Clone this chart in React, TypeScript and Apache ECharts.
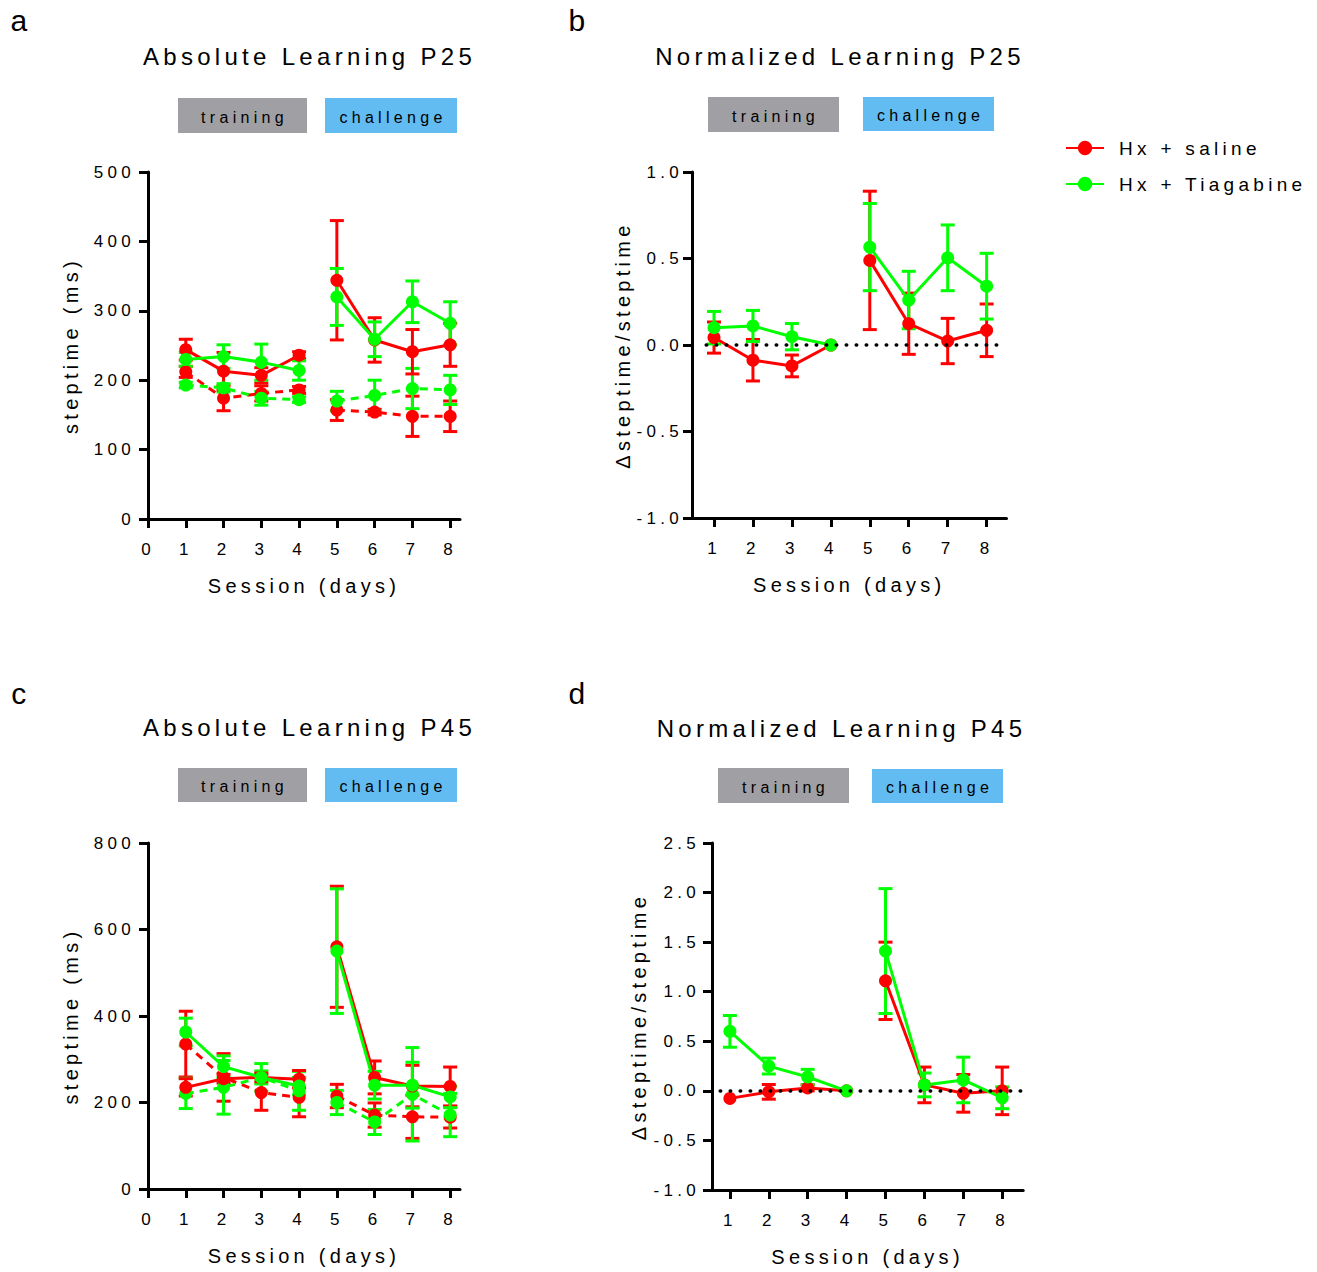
import React, { useEffect, useRef } from 'react';
import * as echarts from 'echarts';

const FONT = '"Liberation Sans", Arial, Helvetica, sans-serif';
const RED = '#ff0000';
const GREEN = '#00ff00';
const GRAY = '#a0a0a4';
const BLUE = '#62bcf2';

const sessions = [1, 2, 3, 4, 5, 6, 7, 8];
const xTicksAbs = [0, 1, 2, 3, 4, 5, 6, 7, 8];
const xTicksNorm = [1, 2, 3, 4, 5, 6, 7, 8];
const legendNames = ['Hx + saline', 'Hx + Tiagabine'];

// Panel a: Absolute Learning P25 (ms)
const aSalineSolid = [244, 213, 207, 236, 344, 258, 241, 251];
const aSalineSolidErr = [15, 27, 11, 5, 86, 32, 32, 31];
const aSalineDashed = [212, 174, 181, 186, 157, 154, 148, 148];
const aSalineDashedErr = [8, 18, 11, 5, 15, 4, 29, 22];
const aTiaSolid = [230, 234, 226, 214, 320, 259, 313, 282];
const aTiaSolidErr = [10, 17, 26, 14, 41, 25, 30, 31];
const aTiaDashed = [193, 189, 174, 172, 170, 178, 188, 186];
const aTiaDashedErr = [4, 6, 10, 4, 14, 22, 29, 21];

// Panel b: Normalized Learning P25
const bSaline = [0.043, -0.088, -0.121, 0, 0.489, 0.123, 0.023, 0.085];
const bSalineErr = [0.09, 0.12, 0.063, 0, 0.4, 0.177, 0.131, 0.152];
const bTia = [0.1, 0.11, 0.048, 0, 0.566, 0.26, 0.504, 0.34];
const bTiaErr = [0.094, 0.09, 0.076, 0, 0.252, 0.166, 0.19, 0.19];

// Panel c: Absolute Learning P45 (ms)
const cSalineSolid = [235, 255, 258, 254, 560, 258, 238, 237];
const cSalineSolidErr = [20, 10, 10, 20, 140, 38, 48, 45];
const cSalineDashed = [335, 258, 223, 212, 215, 171, 167, 166];
const cSalineDashedErr = [76, 55, 41, 45, 27, 28, 50, 25];
const cTiaSolid = [363, 283, 258, 238, 550, 240, 240, 213];
const cTiaSolidErr = [32, 25, 32, 20, 144, 32, 53, 25];
const cTiaDashed = [221, 235, 258, 227, 200, 155, 219, 171];
const cTiaDashedErr = [35, 62, 15, 45, 28, 29, 108, 50];

// Panel d: Normalized Learning P45
const dSaline = [-0.076, -0.01, 0.03, 0, 1.11, 0.06, -0.025, 0.0];
const dSalineErr = [0, 0.074, 0.03, 0, 0.39, 0.18, 0.19, 0.24];
const dTia = [0.6, 0.25, 0.14, 0, 1.41, 0.06, 0.11, -0.07];
const dTiaErr = [0.16, 0.08, 0.077, 0, 0.63, 0.12, 0.23, 0.11];

const linePts = (vals: number[]) => {
  const out: any[] = [];
  sessions.forEach((s, i) => {
    if (i === 4) out.push('-');
    out.push([s, vals[i]]);
  });
  return out;
};
const errPts = (vals: number[], errs: number[]) =>
  sessions.map((s, i) => [s, vals[i], errs[i]]).filter((d) => d[2] > 0);

const lineSeries = (name: string, color: string, dashed: boolean, gi: number, vals: number[]) => ({
  type: 'line',
  name,
  xAxisIndex: gi,
  yAxisIndex: gi,
  data: linePts(vals),
  symbol: 'circle',
  symbolSize: 13,
  showSymbol: true,
  connectNulls: false,
  lineStyle: { color, width: 3, type: dashed ? [8, 6] : 'solid' },
  itemStyle: { color },
  emphasis: { disabled: true },
  z: 3,
});

const errSeries = (color: string, gi: number, vals: number[], errs: number[]) => ({
  type: 'custom',
  xAxisIndex: gi,
  yAxisIndex: gi,
  data: errPts(vals, errs),
  encode: { x: 0, y: 1 },
  silent: true,
  z: 3,
  renderItem: (params: any, api: any) => {
    const x = api.value(0);
    const y = api.value(1);
    const e = api.value(2);
    const top = api.coord([x, y + e]);
    const bot = api.coord([x, y - e]);
    const hw = 7;
    const st = { stroke: color, lineWidth: 3 };
    return {
      type: 'group',
      children: [
        { type: 'line', shape: { x1: top[0], y1: top[1], x2: bot[0], y2: bot[1] }, style: st },
        { type: 'line', shape: { x1: top[0] - hw, y1: top[1], x2: top[0] + hw, y2: top[1] }, style: st },
        { type: 'line', shape: { x1: bot[0] - hw, y1: bot[1], x2: bot[0] + hw, y2: bot[1] }, style: st },
      ],
    };
  },
});

const axisLineStyle = { show: true, onZero: false, lineStyle: { color: '#000', width: 3 } };

const xAxisCfg = (gi: number, min: number, max: number, ticks: number[]) => ({
  type: 'value',
  gridIndex: gi,
  min,
  max,
  name: 'Session (days)',
  nameLocation: 'middle',
  nameGap: 57,
  nameTextStyle: { fontSize: 20, color: '#000', fontFamily: FONT },
  axisLine: axisLineStyle,
  axisTick: { show: true, length: 9, lineStyle: { width: 3, color: '#000' }, customValues: ticks },
  axisLabel: { customValues: ticks, fontSize: 17, color: '#000', margin: 22, fontFamily: FONT },
  splitLine: { show: false },
});

const yAxisCfg = (
  gi: number,
  min: number,
  max: number,
  interval: number,
  name: string,
  gap: number,
  margin: number,
  decimals: number
) => ({
  type: 'value',
  gridIndex: gi,
  min,
  max,
  interval,
  name,
  nameLocation: 'middle',
  nameRotate: 90,
  nameGap: gap,
  nameTextStyle: { fontSize: 20, color: '#000', fontFamily: FONT },
  axisLine: axisLineStyle,
  axisTick: { show: true, length: 9, lineStyle: { width: 3, color: '#000' } },
  axisLabel: {
    fontSize: 17,
    color: '#000',
    margin,
    fontFamily: FONT,
    formatter: (v: number) => v.toFixed(decimals),
  },
  splitLine: { show: false },
});

const textEl = (text: string, x: number, y: number, size: number) => ({
  type: 'text',
  x,
  y,
  silent: true,
  style: {
    text,
    fontSize: size,
    fontFamily: FONT,
    fill: '#000',
    align: 'center',
    verticalAlign: 'middle',
    textAlign: 'center',
    textVerticalAlign: 'middle',
  },
});

const boxEl = (label: string, color: string, x: number, y: number, w: number, h: number) => [
  { type: 'rect', shape: { x, y, width: w, height: h }, style: { fill: color }, silent: true },
  textEl(label, x + w / 2 + 2, y + h / 2 + 1.5, 16),
];

export default function App() {
  const ref = useRef<HTMLDivElement>(null);
  useEffect(() => {
    if (!ref.current) return;
    const chart = echarts.init(ref.current, undefined, { renderer: 'svg' });
    const zeroMark = (x0: number, x1: number) => ({
      silent: true,
      symbol: 'none',
      label: { show: false },
      lineStyle: { color: '#000', type: [0.5, 9.5], width: 3.5, cap: 'round' },
      data: [[{ coord: [x0, 0] }, { coord: [x1, 0] }]],
    });

    const bSal = lineSeries(legendNames[0], RED, false, 1, bSaline) as any;
    bSal.markLine = zeroMark(0.8, 8.5);
    const dSal = lineSeries(legendNames[0], RED, false, 3, dSaline) as any;
    dSal.markLine = zeroMark(0.75, 8.54);

    const option: any = {
      animation: false,
      backgroundColor: '#fff',
      textStyle: { fontFamily: FONT },
      legend: {
        data: legendNames,
        orient: 'vertical',
        left: 1060,
        top: 132,
        itemWidth: 38,
        itemHeight: 18,
        itemGap: 14,
        selectedMode: false,
        textStyle: { fontFamily: FONT, fontSize: 19, color: '#000', lineHeight: 22, padding: [0, 0, 0, 10] },
      },
      grid: [
        { left: 148, top: 172, width: 312, height: 347 },
        { left: 692, top: 172, width: 314.5, height: 346 },
        { left: 148, top: 843, width: 312, height: 346 },
        { left: 712, top: 843, width: 311.2, height: 347 },
      ],
      xAxis: [
        xAxisCfg(0, 0, 8.26, xTicksAbs),
        xAxisCfg(1, 0.435, 8.51, xTicksNorm),
        xAxisCfg(2, 0, 8.26, xTicksAbs),
        xAxisCfg(3, 0.54, 8.54, xTicksNorm),
      ],
      yAxis: [
        yAxisCfg(0, 0, 500, 100, 'steptime (ms)', 67, 13, 0),
        yAxisCfg(1, -1, 1, 0.5, '\u0394steptime/steptime', 59, 9, 1),
        yAxisCfg(2, 0, 800, 200, 'steptime (ms)', 67, 13, 0),
        yAxisCfg(3, -1, 2.5, 0.5, '\u0394steptime/steptime', 63, 12, 1),
      ],
      series: [
        // panel b (first, so that the legend icons use its solid lines)
        errSeries(RED, 1, bSaline, bSalineErr),
        bSal,
        errSeries(GREEN, 1, bTia, bTiaErr),
        lineSeries(legendNames[1], GREEN, false, 1, bTia),
        // panel a
        errSeries(RED, 0, aSalineDashed, aSalineDashedErr),
        lineSeries(legendNames[0], RED, true, 0, aSalineDashed),
        errSeries(GREEN, 0, aTiaDashed, aTiaDashedErr),
        lineSeries(legendNames[1], GREEN, true, 0, aTiaDashed),
        errSeries(RED, 0, aSalineSolid, aSalineSolidErr),
        lineSeries(legendNames[0], RED, false, 0, aSalineSolid),
        errSeries(GREEN, 0, aTiaSolid, aTiaSolidErr),
        lineSeries(legendNames[1], GREEN, false, 0, aTiaSolid),
        // panel c
        errSeries(RED, 2, cSalineDashed, cSalineDashedErr),
        lineSeries(legendNames[0], RED, true, 2, cSalineDashed),
        errSeries(GREEN, 2, cTiaDashed, cTiaDashedErr),
        lineSeries(legendNames[1], GREEN, true, 2, cTiaDashed),
        errSeries(RED, 2, cSalineSolid, cSalineSolidErr),
        lineSeries(legendNames[0], RED, false, 2, cSalineSolid),
        errSeries(GREEN, 2, cTiaSolid, cTiaSolidErr),
        lineSeries(legendNames[1], GREEN, false, 2, cTiaSolid),
        // panel d
        errSeries(RED, 3, dSaline, dSalineErr),
        dSal,
        errSeries(GREEN, 3, dTia, dTiaErr),
        lineSeries(legendNames[1], GREEN, false, 3, dTia),
      ],
      graphic: [
        textEl('a', 21, 20, 30),
        textEl('b', 579, 20, 30),
        textEl('c', 21, 693, 30),
        textEl('d', 579, 693, 30),
        textEl('Absolute Learning P25', 309.5, 56, 24),
        textEl('Normalized Learning P25', 840, 56, 24),
        textEl('Absolute Learning P45', 309.5, 727, 24),
        textEl('Normalized Learning P45', 841.5, 728, 24),
        ...boxEl('training', GRAY, 178, 98, 129, 35),
        ...boxEl('challenge', BLUE, 325, 98, 132, 35),
        ...boxEl('training', GRAY, 708, 97, 131, 35),
        ...boxEl('challenge', BLUE, 863, 97, 131, 34),
        ...boxEl('training', GRAY, 178, 768, 129, 34),
        ...boxEl('challenge', BLUE, 325, 768, 132, 34),
        ...boxEl('training', GRAY, 718, 768, 131, 35),
        ...boxEl('challenge', BLUE, 872, 769, 131, 34),
      ],
    };
    chart.setOption(option);
    return () => chart.dispose();
  }, []);

  return (
    <>
      <style>{'.chart-root text { letter-spacing: 4.3px; }'}</style>
      <div
        ref={ref}
        className="chart-root"
        style={{ position: 'absolute', left: 0, top: 0, width: 1317, height: 1272 }}
      />
    </>
  );
}
